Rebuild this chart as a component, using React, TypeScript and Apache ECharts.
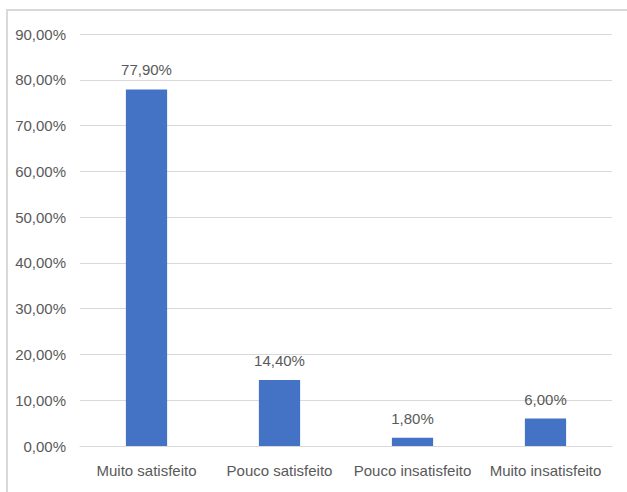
import React, { useEffect, useRef } from "react";
import * as echarts from "echarts";

const categories = ["Muito satisfeito", "Pouco satisfeito", "Pouco insatisfeito", "Muito insatisfeito"];
const values = [77.9, 14.4, 1.8, 6.0];
const yMin = 0;
const yMax = 90;
const yInterval = 10;

const FONT = "'Liberation Sans Narrow', 'Liberation Sans', sans-serif";
const fmt = (v: number) => v.toFixed(2).replace(".", ",") + "%";

export default function App() {
  const ref = useRef<HTMLDivElement>(null);
  useEffect(() => {
    if (!ref.current) return;
    const chart = echarts.init(ref.current, undefined, { renderer: "svg" });
    chart.setOption({
      animation: false,
      backgroundColor: "#ffffff",
      textStyle: { fontFamily: FONT },
      graphic: [
        {
          type: "rect",
          shape: { x: 7, y: 10, width: 640, height: 500 },
          style: { fill: "none", stroke: "#d9d9d9", lineWidth: 2 },
          silent: true,
        },
      ],
      grid: { left: 80, right: 15, top: 34, bottom: 46, containLabel: false },
      xAxis: {
        type: "category",
        data: categories,
        axisLine: { show: true, lineStyle: { color: "#d9d9d9", width: 1 } },
        axisTick: { show: false },
        axisLabel: { color: "#595959", fontSize: 15, fontFamily: FONT, margin: 17, interval: 0 },
      },
      yAxis: {
        type: "value",
        min: yMin,
        max: yMax,
        interval: yInterval,
        axisLine: { show: false },
        axisTick: { show: false },
        splitLine: { lineStyle: { color: "#d9d9d9", width: 1 } },
        axisLabel: {
          color: "#595959",
          fontSize: 15,
          fontFamily: FONT,
          margin: 14,
          formatter: (v: number) => fmt(v),
        },
      },
      series: [
        {
          type: "bar",
          data: values,
          barWidth: "31%",
          itemStyle: { color: "#4472C4" },
          label: {
            show: true,
            position: "top",
            distance: 12,
            color: "#595959",
            fontSize: 15,
            fontFamily: FONT,
            formatter: (p: any) => fmt(p.value),
          },
        },
      ],
    });
    return () => chart.dispose();
  }, []);
  return (
    <div
      ref={ref}
      style={{ position: "fixed", left: 0, top: 0, width: 627, height: 492 }}
    />
  );
}
